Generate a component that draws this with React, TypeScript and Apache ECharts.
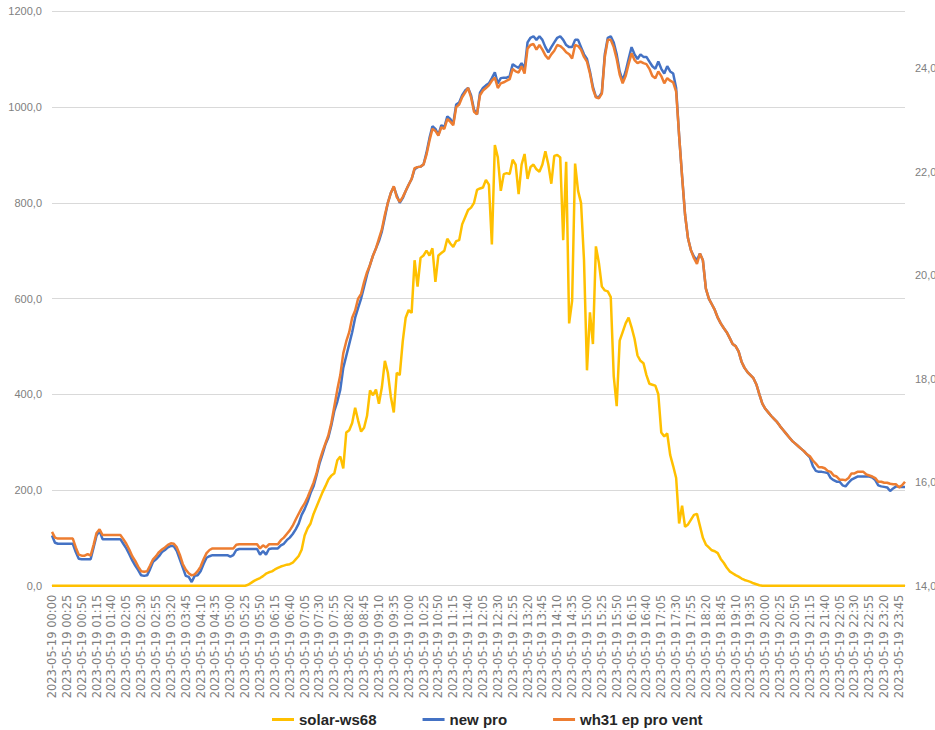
import React, { useEffect, useRef } from "react";
import * as echarts from "echarts";

// categories: 5-minute steps over 2023-05-19
const DAY = "2023-05-19";
const categories: string[] = [];
for (let h = 0; h < 24; h++) {
  for (let m = 0; m < 60; m += 5) {
    categories.push(`${DAY} ${String(h).padStart(2, "0")}:${String(m).padStart(2, "0")}`);
  }
}

// solar-ws68 (left axis), one row per hour
const solarWs68 = [
  0, 0, 0, 0, 0, 0, 0, 0, 0, 0, 0, 0,
  0, 0, 0, 0, 0, 0, 0, 0, 0, 0, 0, 0,
  0, 0, 0, 0, 0, 0, 0, 0, 0, 0, 0, 0,
  0, 0, 0, 0, 0, 0, 0, 0, 0, 0, 0, 0,
  0, 0, 0, 0, 0, 0, 0, 0, 0, 0, 0, 0,
  0, 0, 0, 0, 0, 0, 2, 6, 10, 13, 16, 20,
  25, 28, 30, 34, 37, 40, 42, 44, 45, 48, 55, 62,
  75, 105, 120, 130, 150, 165, 180, 195, 208, 222, 230, 235,
  262, 270, 245, 320, 325, 340, 372, 345, 322, 330, 355, 408,
  398, 410, 380, 415, 470, 445, 395, 362, 445, 440, 510, 560,
  576, 570, 680, 625, 685, 690, 700, 690, 705, 635, 690, 695,
  700, 725, 715, 708, 720, 722, 755, 770, 785, 790, 800, 827,
  830, 832, 848, 838, 713, 921, 895, 825, 860, 862, 860, 890,
  880, 818, 880, 902, 850, 875, 880, 870, 865, 880, 908, 880,
  840, 898, 900, 895, 722, 886, 548, 595, 882, 825, 800, 680,
  450, 571, 505, 709, 675, 625, 617, 615, 603, 438, 375, 512,
  530, 548, 560, 540, 516, 481, 470, 465, 440, 422, 420, 418,
  400, 320, 312, 318, 273, 250, 225, 130, 167, 123, 128, 138,
  148, 150, 125, 100, 86, 80, 74, 72, 68, 56, 48, 38,
  30, 26, 22, 19, 15, 12, 10, 8, 5, 3, 1, 0,
  0, 0, 0, 0, 0, 0, 0, 0, 0, 0, 0, 0,
  0, 0, 0, 0, 0, 0, 0, 0, 0, 0, 0, 0,
  0, 0, 0, 0, 0, 0, 0, 0, 0, 0, 0, 0,
  0, 0, 0, 0, 0, 0, 0, 0, 0, 0, 0, 0,
];

// new pro (right axis), one row per hour
const newPro = [
  14.97, 14.83, 14.81, 14.81, 14.81, 14.81, 14.81, 14.81, 14.65, 14.52, 14.51, 14.51,
  14.51, 14.51, 14.74, 14.97, 15.06, 14.9, 14.9, 14.9, 14.9, 14.9, 14.9, 14.9,
  14.81, 14.72, 14.61, 14.49, 14.39, 14.3, 14.2, 14.19, 14.2, 14.32, 14.46, 14.51,
  14.57, 14.65, 14.69, 14.74, 14.77, 14.76, 14.67, 14.51, 14.35, 14.19, 14.17, 14.07,
  14.19, 14.2, 14.28, 14.42, 14.54, 14.57, 14.59, 14.59, 14.59, 14.59, 14.59, 14.59,
  14.56, 14.59, 14.69, 14.71, 14.71, 14.71, 14.71, 14.71, 14.71, 14.71, 14.6, 14.67,
  14.6, 14.71, 14.72, 14.72, 14.72, 14.78, 14.81, 14.88, 14.93, 15.0, 15.09, 15.2,
  15.37, 15.48, 15.62, 15.79, 15.92, 16.13, 16.36, 16.54, 16.73, 16.87, 17.1, 17.38,
  17.56, 17.79, 18.21, 18.44, 18.67, 18.9, 19.18, 19.37, 19.55, 19.78, 20.01, 20.2,
  20.38, 20.52, 20.66, 20.85, 21.12, 21.4, 21.59, 21.71, 21.54, 21.4, 21.49, 21.63,
  21.75, 21.86, 22.05, 22.09, 22.1, 22.14, 22.37, 22.65, 22.88, 22.83, 22.71, 22.9,
  22.86, 23.07, 23.02, 22.93, 23.3, 23.34, 23.48, 23.57, 23.62, 23.48, 23.2, 23.11,
  23.53, 23.62, 23.67, 23.71, 23.81, 23.92, 23.71, 23.81, 23.82, 23.82, 23.85, 24.08,
  24.04, 24.01, 24.1, 23.99, 24.5, 24.59, 24.62, 24.55, 24.62, 24.55, 24.41, 24.31,
  24.41, 24.5, 24.59, 24.62, 24.55, 24.45, 24.41, 24.41, 24.55, 24.55, 24.41, 24.27,
  24.18, 23.94, 23.64, 23.45, 23.44, 23.53, 24.27, 24.59, 24.62, 24.5, 24.27, 23.94,
  23.76, 23.94, 24.18, 24.41, 24.27, 24.18, 24.27, 24.22, 24.22, 24.13, 24.04, 23.99,
  24.13, 23.99, 23.9, 24.04, 23.94, 23.9, 23.62, 22.7, 21.91, 21.17, 20.71, 20.48,
  20.36, 20.29, 20.42, 20.29, 19.74, 19.55, 19.44, 19.33, 19.18, 19.07, 18.98, 18.9,
  18.79, 18.67, 18.63, 18.53, 18.33, 18.21, 18.13, 18.07, 18.01, 17.89, 17.7, 17.52,
  17.42, 17.35, 17.28, 17.22, 17.16, 17.08, 17.01, 16.94, 16.87, 16.8, 16.75, 16.7,
  16.65, 16.6, 16.54, 16.48, 16.31, 16.22, 16.2, 16.2, 16.19, 16.18, 16.08, 16.04,
  16.01, 16.01, 15.94, 15.92, 15.99, 16.05, 16.08, 16.11, 16.11, 16.11, 16.11, 16.11,
  16.09, 16.04, 15.94, 15.92, 15.91, 15.9, 15.83, 15.88, 15.92, 15.91, 15.91, 15.91,
];

// wh31 ep pro vent (right axis), one row per hour
const wh31EpProVent = [
  15.04, 14.93, 14.91, 14.91, 14.91, 14.91, 14.91, 14.91, 14.74, 14.6, 14.58, 14.58,
  14.61, 14.58, 14.79, 15.02, 15.09, 14.98, 14.98, 14.98, 14.98, 14.98, 14.98, 14.98,
  14.9, 14.81, 14.7, 14.57, 14.48, 14.37, 14.28, 14.27, 14.28, 14.39, 14.51, 14.57,
  14.65, 14.7, 14.74, 14.79, 14.82, 14.81, 14.74, 14.6, 14.42, 14.31, 14.24, 14.2,
  14.22, 14.28, 14.37, 14.51, 14.63, 14.69, 14.72, 14.72, 14.72, 14.72, 14.72, 14.72,
  14.72, 14.72, 14.79, 14.8, 14.8, 14.8, 14.8, 14.8, 14.8, 14.8, 14.72, 14.78,
  14.74, 14.8, 14.8, 14.8, 14.8, 14.88, 14.93, 15.0, 15.07, 15.16, 15.28, 15.39,
  15.5, 15.59, 15.71, 15.85, 15.99, 16.17, 16.41, 16.59, 16.75, 16.91, 17.15, 17.47,
  17.79, 18.07, 18.49, 18.72, 18.9, 19.18, 19.32, 19.55, 19.64, 19.87, 20.06, 20.2,
  20.38, 20.52, 20.71, 20.89, 21.17, 21.4, 21.59, 21.72, 21.51, 21.42, 21.51, 21.63,
  21.75, 21.86, 22.07, 22.09, 22.1, 22.14, 22.33, 22.6, 22.83, 22.79, 22.7, 22.86,
  22.83, 23.02, 22.97, 22.9, 23.25, 23.3, 23.44, 23.53, 23.62, 23.44, 23.16, 23.11,
  23.48, 23.57, 23.62, 23.67, 23.76, 23.82, 23.62, 23.71, 23.73, 23.76, 23.79, 23.99,
  23.94, 23.92, 24.04, 23.9, 24.38, 24.45, 24.47, 24.36, 24.45, 24.36, 24.25, 24.18,
  24.27, 24.34, 24.45, 24.43, 24.38, 24.31, 24.27, 24.19, 24.45, 24.43, 24.36, 24.22,
  24.13, 23.9, 23.6, 23.44, 23.42, 23.51, 24.22, 24.55, 24.55, 24.41, 24.18, 23.88,
  23.71, 23.85, 24.08, 24.29, 24.16, 24.1, 24.13, 24.1, 24.08, 23.99, 23.85, 23.81,
  23.94, 23.85, 23.71, 23.81, 23.76, 23.73, 23.55, 22.7, 21.91, 21.17, 20.71, 20.48,
  20.33, 20.22, 20.42, 20.29, 19.74, 19.55, 19.44, 19.33, 19.18, 19.07, 18.98, 18.9,
  18.79, 18.67, 18.63, 18.53, 18.33, 18.21, 18.13, 18.07, 18.01, 17.89, 17.7, 17.52,
  17.42, 17.35, 17.28, 17.22, 17.16, 17.08, 17.01, 16.94, 16.87, 16.8, 16.75, 16.7,
  16.65, 16.6, 16.54, 16.5, 16.42, 16.36, 16.29, 16.29, 16.27, 16.22, 16.2, 16.13,
  16.11, 16.05, 16.05, 16.04, 16.08, 16.17, 16.17, 16.2, 16.2, 16.2, 16.15, 16.13,
  16.11, 16.08, 16.01, 16.01, 15.99, 15.99, 15.97, 15.96, 15.96, 15.9, 15.94, 16.01,
];

const seriesNames = ["solar-ws68", "new pro", "wh31 ep pro vent"];
const seriesColors = ["#FFC000", "#4472C4", "#ED7D31"];

const fmt = (v: number) => v.toFixed(1).replace(".", ",");

export default function App() {
  const ref = useRef<HTMLDivElement>(null);
  useEffect(() => {
    if (!ref.current) return;
    const chart = echarts.init(ref.current, null, { renderer: "svg" });
    const sans = "'Liberation Sans', Arial, sans-serif";
    chart.setOption({
      animation: false,
      backgroundColor: "#ffffff",
      grid: {
        left: 52,
        right: 30,
        top: 11.4,
        bottom: 144.3,
        containLabel: false,
        outerBoundsMode: "none",
      },
      legend: {
        left: 267,
        top: 707,
        icon: "rect",
        itemWidth: 22,
        itemHeight: 3,
        itemGap: 46,
        textStyle: { fontFamily: sans, fontSize: 15, color: "#262626", fontWeight: "bold" },
        data: seriesNames,
      },
      xAxis: {
        type: "category",
        data: categories,
        boundaryGap: false,
        axisLine: { show: true, lineStyle: { color: "#d9d9d9", width: 1 } },
        axisTick: { show: false },
        axisLabel: {
          interval: 4,
          rotate: 90,
          margin: 9,
          fontFamily: "'DejaVu Sans', sans-serif",
          fontSize: 11.5,
          color: "#808080",
        },
        splitLine: { show: false },
      },
      yAxis: [
        {
          type: "value",
          min: 0,
          max: 1200,
          interval: 200,
          axisLine: { show: false },
          axisTick: { show: false },
          axisLabel: { formatter: fmt, fontFamily: sans, fontSize: 11, color: "#808080", margin: 10 },
          splitLine: { show: true, lineStyle: { color: "#d9d9d9", width: 1 } },
        },
        {
          type: "value",
          min: 14,
          max: 25.1,
          interval: 2,
          position: "right",
          axisLine: { show: false },
          axisTick: { show: false },
          axisLabel: {
            formatter: fmt,
            fontFamily: sans,
            fontSize: 11,
            color: "#808080",
            margin: 10,
            showMaxLabel: false,
          },
          splitLine: { show: false },
        },
      ],
      series: [
        {
          name: seriesNames[0],
          type: "line",
          yAxisIndex: 0,
          data: solarWs68,
          symbol: "none",
          lineStyle: { width: 2.5, color: seriesColors[0] },
          itemStyle: { color: seriesColors[0] },
        },
        {
          name: seriesNames[1],
          type: "line",
          yAxisIndex: 1,
          data: newPro,
          symbol: "none",
          lineStyle: { width: 2.5, color: seriesColors[1] },
          itemStyle: { color: seriesColors[1] },
        },
        {
          name: seriesNames[2],
          type: "line",
          yAxisIndex: 1,
          data: wh31EpProVent,
          symbol: "none",
          lineStyle: { width: 2.5, color: seriesColors[2] },
          itemStyle: { color: seriesColors[2] },
        },
      ],
    });
    return () => chart.dispose();
  }, []);
  return (
    <div
      ref={ref}
      style={{ position: "fixed", left: 0, top: 0, width: 935, height: 730, background: "#fff" }}
    />
  );
}
